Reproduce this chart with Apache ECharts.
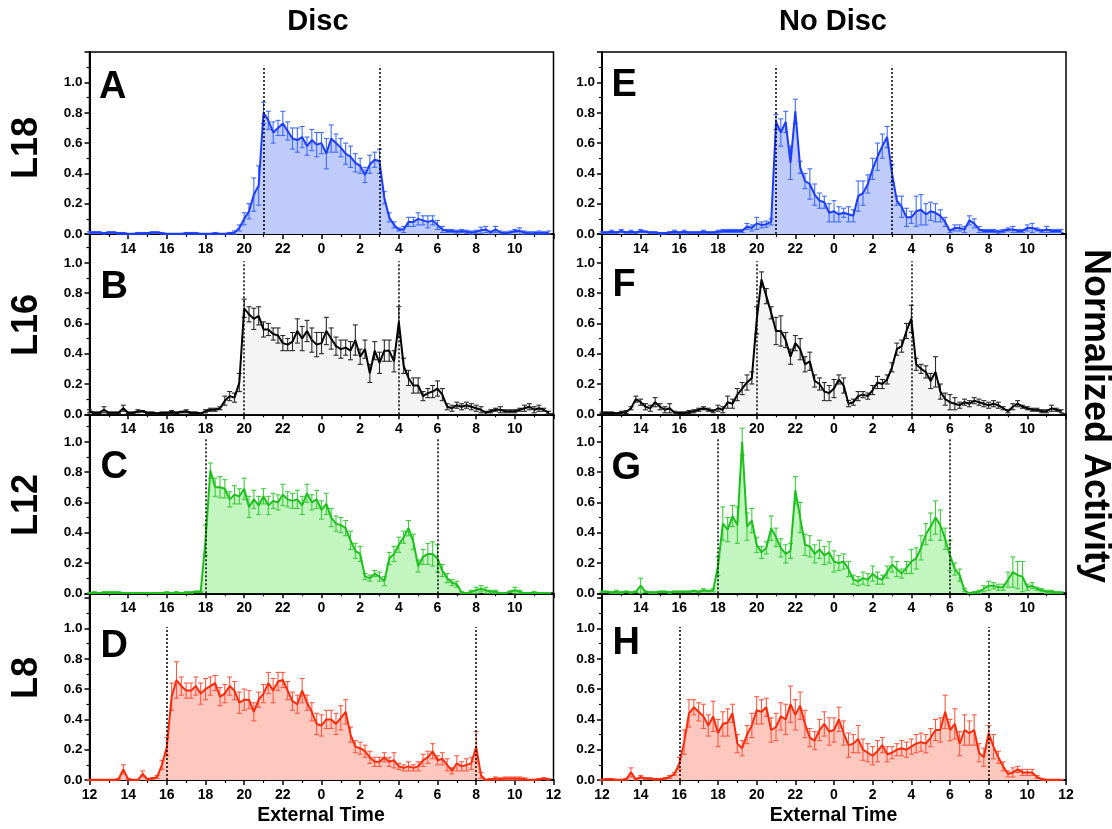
<!DOCTYPE html>
<html>
<head>
<meta charset="utf-8">
<script src="https://cdn.jsdelivr.net/npm/echarts@6/dist/echarts.min.js"></script>
<style>
  html, body { margin: 0; padding: 0; background: #fff; }
  #chart { width: 1112px; height: 829px; }
</style>
</head>
<body>
<div id="chart"></div>
<script>
// 15-min bins starting at 12:00 (x axis = hours since 12:00)
const BIN_HOURS = 0.25;
const CLOCK_LABELS = ['12', '14', '16', '18', '20', '22', '0', '2', '4', '6', '8', '10', '12'];
const ROW_NAMES = ['L18', 'L16', 'L12', 'L8'];
const COLUMN_NAMES = ['Disc', 'No Disc'];
const PANEL_LETTERS = [['A', 'E'], ['B', 'F'], ['C', 'G'], ['D', 'H']];
// lights off / lights on (clock hour) per row
const LIGHTS_OFF = [21, 20, 18, 16];
const LIGHTS_ON = [3, 4, 6, 8];

// ---- Disc ----
const L18_DISC = [0.01,0.01,0.01,0.005,0.01,0.01,0.005,0.005,0,0,0.005,0.005,0.005,0.01,0.01,0.005,0,0,0,0,0.005,0.005,0.005,0,0,0,0.005,0,0,0.005,
  0.01,0.04,0.10,0.15,0.26,0.32,
  0.80,0.75,0.67,0.70,0.73,0.68,0.63,0.62,0.64,0.58,0.62,0.59,
  0.60,0.53,0.63,0.60,0.57,0.53,0.51,0.47,0.45,0.39,0.46,0.49,
  0.48,0.24,0.11,0.06,0.03,0.03,0.08,0.08,0.10,0.09,0.08,0.09,
  0.06,0.03,0.02,0.02,0.015,0.02,0.015,0.01,0.015,0.025,0.03,0.01,
  0.03,0.01,0.005,0.01,0.02,0.02,0.01,0.005,0.005,0.01,0.005,0.01];
const L18_DISC_ERR = [0.005,0.005,0.005,0.005,0.005,0.005,0.005,0.005,0.005,0.005,0.005,0.005,0.005,0.005,0.005,0.005,0.005,0.005,0.005,0.005,0.005,0.005,0.005,0.005,0.005,0.005,0.005,0.005,0.005,0.005,
  0.01,0.02,0.04,0.05,0.11,0.13,
  0.07,0.06,0.07,0.05,0.08,0.06,0.07,0.08,0.07,0.06,0.07,0.08,
  0.07,0.10,0.09,0.06,0.06,0.07,0.07,0.06,0.05,0.05,0.06,0.05,
  0.08,0.04,0.03,0.02,0.01,0.02,0.03,0.03,0.04,0.03,0.04,0.03,
  0.03,0.02,0.01,0.01,0.01,0.01,0.01,0.01,0.01,0.02,0.02,0.01,
  0.02,0.01,0.01,0.01,0.01,0.02,0.01,0.01,0.01,0.01,0.01,0.01];

const L16_DISC = [0.02,0.01,0.01,0.03,0.01,0.01,0.01,0.04,0.01,0.01,0.02,0.02,0.01,0.01,0.005,0.01,0.01,0.015,0.01,0.015,0.02,0.01,0.01,0.005,
  0.02,0.03,0.03,0.04,0.09,0.12,0.11,0.21,
  0.70,0.66,0.63,0.65,0.56,0.56,0.53,0.52,0.47,0.46,0.48,0.55,
  0.50,0.55,0.49,0.46,0.47,0.55,0.50,0.45,0.43,0.44,0.42,0.49,
  0.38,0.43,0.27,0.42,0.34,0.42,0.42,0.35,0.61,0.32,0.24,0.19,
  0.19,0.12,0.14,0.15,0.17,0.13,0.05,0.04,0.06,0.05,0.06,0.05,
  0.04,0.03,0.01,0.02,0.03,0.03,0.02,0.02,0.02,0.03,0.04,0.05,0.03,0.04,0.03,0.01];
const L16_DISC_ERR = [0.01,0.005,0.005,0.02,0.005,0.005,0.005,0.02,0.005,0.005,0.01,0.005,0.005,0.005,0.005,0.005,0.005,0.01,0.005,0.005,0.01,0.005,0.005,0.005,
  0.01,0.01,0.01,0.01,0.03,0.03,0.03,0.06,
  0.06,0.05,0.07,0.06,0.05,0.04,0.04,0.05,0.05,0.04,0.06,0.08,
  0.08,0.07,0.08,0.08,0.07,0.09,0.07,0.06,0.06,0.05,0.06,0.10,
  0.05,0.06,0.06,0.06,0.07,0.07,0.07,0.07,0.10,0.05,0.05,0.05,
  0.05,0.03,0.03,0.04,0.05,0.04,0.02,0.02,0.02,0.02,0.02,0.02,
  0.02,0.02,0.01,0.01,0.01,0.02,0.01,0.01,0.01,0.01,0.02,0.02,0.02,0.02,0.01,0.01];

const L12_DISC = [0,0.005,0,0.005,0.005,0.005,0.005,0,0,0,0,0,0,0,0,0,0.005,0,0.005,0,0.005,0.005,0.01,0.01,
  0.35,0.81,0.70,0.70,0.69,0.62,0.65,0.64,0.69,0.57,0.62,0.58,
  0.64,0.58,0.61,0.60,0.65,0.62,0.61,0.62,0.58,0.66,0.60,0.62,
  0.55,0.59,0.50,0.46,0.45,0.43,0.35,0.28,0.26,0.11,0.10,0.13,
  0.11,0.08,0.23,0.26,0.32,0.37,0.43,0.34,0.18,0.24,0.26,0.26,
  0.23,0.15,0.10,0.07,0.06,0.005,0,0.01,0.02,0.03,0.02,0.01,
  0.01,0,0,0.01,0.02,0.01,0,0,0.005,0,0,0];
const L12_DISC_ERR = [0.005,0.005,0.005,0.005,0.005,0.005,0.005,0.005,0.005,0.005,0.005,0.005,0.005,0.005,0.005,0.005,0.005,0.005,0.005,0.005,0.005,0.005,0.005,0.005,
  0.10,0.05,0.06,0.07,0.06,0.05,0.06,0.05,0.07,0.07,0.06,0.06,
  0.05,0.06,0.05,0.05,0.07,0.05,0.05,0.06,0.06,0.06,0.05,0.06,
  0.06,0.07,0.06,0.05,0.05,0.05,0.06,0.05,0.05,0.02,0.02,0.02,
  0.03,0.03,0.04,0.05,0.05,0.04,0.05,0.05,0.04,0.05,0.07,0.08,
  0.09,0.04,0.03,0.02,0.02,0.005,0.005,0.01,0.02,0.02,0.02,0.01,
  0.01,0.005,0.005,0.005,0.02,0.01,0.005,0.005,0.005,0.005,0.005,0.005];

const L8_DISC = [0,0,0,0,0,0,0.005,0.07,0.005,0,0,0.04,0.005,0.01,0.02,0.10,
  0.22,0.55,0.66,0.62,0.59,0.59,0.62,0.57,0.60,0.62,0.64,0.55,
  0.57,0.62,0.59,0.51,0.53,0.53,0.45,0.53,0.57,0.64,0.59,0.65,
  0.66,0.59,0.52,0.50,0.59,0.51,0.45,0.37,0.36,0.40,0.40,0.37,
  0.41,0.45,0.30,0.22,0.21,0.19,0.15,0.12,0.12,0.15,0.12,0.13,
  0.09,0.08,0.09,0.08,0.09,0.13,0.15,0.19,0.13,0.14,0.10,0.06,
  0.11,0.09,0.10,0.11,0.22,0.03,0,0.005,0.01,0.005,0.01,0.01,
  0.01,0.01,0.005,0,0,0.005,0.01,0.005];
const L8_DISC_ERR = [0.005,0.005,0.005,0.005,0.005,0.005,0.005,0.03,0.005,0.005,0.005,0.02,0.005,0.005,0.01,0.03,
  0.06,0.09,0.12,0.06,0.05,0.05,0.06,0.07,0.07,0.06,0.05,0.06,
  0.06,0.06,0.06,0.07,0.07,0.06,0.06,0.05,0.06,0.07,0.08,0.06,
  0.05,0.06,0.06,0.06,0.08,0.05,0.06,0.07,0.07,0.06,0.06,0.07,
  0.08,0.08,0.05,0.04,0.04,0.04,0.04,0.03,0.03,0.03,0.03,0.05,
  0.02,0.02,0.03,0.02,0.03,0.04,0.04,0.05,0.03,0.04,0.04,0.02,
  0.05,0.03,0.04,0.04,0.10,0.02,0.005,0.005,0.01,0.01,0.01,0.01,
  0.01,0.01,0.01,0.005,0.005,0.005,0.005,0.005];

// ---- No Disc ----
const L18_NODISC = [0.01,0.01,0.015,0.01,0.02,0.01,0.015,0.01,0.02,0.015,0.01,0.01,0.005,0.005,0.01,0.015,0.01,0.015,0.01,0.01,0.01,0.015,0.01,0.01,0.015,0.02,0.02,0.02,
  0.02,0.02,0.05,0.04,0.07,0.06,0.065,0.08,
  0.74,0.67,0.74,0.47,0.81,0.44,0.35,0.33,0.26,0.22,0.21,0.14,
  0.15,0.13,0.14,0.13,0.12,0.25,0.27,0.33,0.43,0.51,0.58,0.64,
  0.40,0.22,0.18,0.11,0.11,0.15,0.16,0.13,0.15,0.14,0.12,0.08,
  0.02,0.04,0.04,0.03,0.09,0.07,0.03,0.02,0.02,0.02,0.015,0.02,
  0.03,0.03,0.02,0.02,0.04,0.04,0.03,0.02,0.03,0.02,0.02,0.02];
const L18_NODISC_ERR = [0.005,0.005,0.01,0.005,0.01,0.005,0.01,0.005,0.01,0.005,0.005,0.005,0.005,0.005,0.005,0.01,0.005,0.01,0.005,0.005,0.005,0.01,0.005,0.005,0.01,0.01,0.01,0.01,
  0.01,0.01,0.02,0.02,0.04,0.02,0.02,0.02,
  0.05,0.09,0.07,0.11,0.08,0.04,0.05,0.10,0.07,0.05,0.04,0.06,
  0.07,0.05,0.03,0.05,0.04,0.10,0.08,0.06,0.07,0.09,0.08,0.07,
  0.06,0.03,0.07,0.06,0.04,0.10,0.10,0.07,0.06,0.06,0.04,0.03,
  0.01,0.02,0.02,0.02,0.03,0.03,0.02,0.01,0.01,0.01,0.01,0.01,
  0.01,0.02,0.01,0.01,0.02,0.03,0.01,0.01,0.02,0.01,0.01,0.01];

const L16_NODISC = [0.01,0.01,0.01,0.005,0.01,0.015,0.04,0.10,0.08,0.05,0.04,0.08,0.05,0.03,0.04,0.01,0.01,0.01,0.015,0.02,0.03,0.04,0.03,0.02,
  0.04,0.03,0.08,0.07,0.13,0.17,0.21,0.24,
  0.62,0.89,0.78,0.67,0.55,0.55,0.49,0.38,0.47,0.43,0.33,0.35,
  0.22,0.20,0.15,0.14,0.17,0.23,0.19,0.07,0.08,0.12,0.13,0.12,
  0.16,0.21,0.20,0.23,0.31,0.43,0.45,0.55,0.63,0.33,0.30,0.28,
  0.22,0.28,0.15,0.10,0.08,0.07,0.06,0.08,0.07,0.09,0.08,0.07,
  0.06,0.07,0.06,0.04,0.02,0.05,0.07,0.05,0.04,0.03,0.03,0.02,0.02,0.04,0.03,0.02];
const L16_NODISC_ERR = [0.005,0.005,0.005,0.005,0.01,0.01,0.01,0.02,0.02,0.02,0.02,0.03,0.02,0.02,0.03,0.01,0.005,0.005,0.01,0.01,0.01,0.01,0.01,0.01,
  0.02,0.02,0.04,0.03,0.04,0.04,0.05,0.04,
  0.09,0.05,0.05,0.04,0.09,0.10,0.05,0.05,0.05,0.07,0.05,0.06,
  0.04,0.04,0.06,0.05,0.06,0.03,0.05,0.02,0.02,0.03,0.02,0.02,
  0.03,0.04,0.03,0.03,0.03,0.04,0.04,0.05,0.09,0.04,0.03,0.04,
  0.05,0.10,0.05,0.04,0.05,0.04,0.02,0.02,0.02,0.02,0.02,0.02,
  0.02,0.02,0.02,0.01,0.01,0.02,0.02,0.01,0.01,0.01,0.01,0.01,0.01,0.02,0.01,0.01];

const L12_NODISC = [0.01,0.01,0.005,0.01,0.005,0.01,0.005,0.01,0.05,0.01,0.005,0.005,0.01,0.01,0.005,0.01,0.01,0.01,0.01,0.015,0.01,0.02,0.015,0.02,
  0.18,0.46,0.42,0.51,0.45,1.00,0.44,0.48,0.32,0.27,0.30,0.43,
  0.37,0.30,0.26,0.28,0.68,0.50,0.32,0.31,0.26,0.29,0.25,0.27,
  0.21,0.20,0.21,0.16,0.09,0.08,0.10,0.09,0.13,0.10,0.09,0.14,
  0.19,0.16,0.13,0.17,0.21,0.23,0.30,0.39,0.44,0.50,0.45,0.36,
  0.25,0.16,0.12,0.02,0,0.005,0.01,0.03,0.05,0.05,0.04,0.04,
  0.09,0.14,0.12,0.11,0.04,0.05,0.03,0.02,0.01,0.01,0.005,0.005];
const L12_NODISC_ERR = [0.005,0.005,0.005,0.01,0.005,0.005,0.005,0.005,0.05,0.005,0.005,0.005,0.005,0.005,0.005,0.005,0.005,0.005,0.005,0.005,0.005,0.01,0.005,0.01,
  0.06,0.11,0.08,0.07,0.12,0.09,0.09,0.08,0.05,0.04,0.04,0.08,
  0.06,0.06,0.06,0.05,0.09,0.10,0.07,0.07,0.06,0.06,0.06,0.07,
  0.07,0.05,0.05,0.05,0.03,0.03,0.04,0.04,0.05,0.04,0.03,0.04,
  0.05,0.05,0.03,0.04,0.08,0.07,0.08,0.07,0.09,0.11,0.10,0.07,
  0.10,0.04,0.04,0.01,0.005,0.005,0.01,0.02,0.03,0.02,0.02,0.02,
  0.05,0.10,0.09,0.10,0.02,0.02,0.01,0.01,0.01,0.01,0.005,0.005];

const L8_NODISC = [0,0.005,0.005,0,0,0.005,0.05,0.005,0.02,0.01,0.01,0.005,0.005,0.01,0.02,0.04,
  0.11,0.25,0.44,0.48,0.45,0.42,0.36,0.42,0.31,0.37,0.38,0.44,
  0.24,0.21,0.30,0.36,0.46,0.45,0.48,0.33,0.35,0.42,0.40,0.50,
  0.43,0.49,0.37,0.28,0.26,0.33,0.37,0.32,0.33,0.40,0.31,0.23,
  0.24,0.27,0.20,0.18,0.16,0.19,0.23,0.17,0.18,0.20,0.21,0.20,
  0.22,0.24,0.25,0.24,0.28,0.33,0.33,0.45,0.33,0.37,0.24,0.33,
  0.31,0.33,0.18,0.15,0.31,0.22,0.15,0.09,0.04,0.05,0.07,0.05,
  0.05,0.05,0.02,0.005,0,0,0,0];
const L8_NODISC_ERR = [0.005,0.005,0.005,0.005,0.005,0.005,0.03,0.005,0.01,0.005,0.005,0.005,0.005,0.005,0.01,0.01,
  0.04,0.08,0.09,0.05,0.06,0.08,0.07,0.10,0.09,0.08,0.09,0.06,
  0.06,0.05,0.06,0.08,0.09,0.08,0.06,0.08,0.09,0.09,0.10,0.12,
  0.10,0.09,0.09,0.06,0.06,0.07,0.08,0.09,0.08,0.08,0.08,0.08,
  0.06,0.09,0.07,0.06,0.06,0.07,0.05,0.05,0.04,0.04,0.05,0.05,
  0.05,0.06,0.06,0.06,0.06,0.07,0.08,0.11,0.07,0.10,0.08,0.10,
  0.08,0.10,0.06,0.06,0.05,0.08,0.04,0.03,0.02,0.03,0.02,0.02,
  0.02,0.02,0.01,0.005,0.005,0.005,0.005,0.005];

// [row][col] -> [values, errors]
const SERIES = [
  [[L18_DISC, L18_DISC_ERR], [L18_NODISC, L18_NODISC_ERR]],
  [[L16_DISC, L16_DISC_ERR], [L16_NODISC, L16_NODISC_ERR]],
  [[L12_DISC, L12_DISC_ERR], [L12_NODISC, L12_NODISC_ERR]],
  [[L8_DISC, L8_DISC_ERR], [L8_NODISC, L8_NODISC_ERR]]
];

// ---- layout & style ----
const FONT = '"Liberation Sans", Arial, Helvetica, sans-serif';
const COL_LEFT = [89.5, 602];
const PLOT_W = 464;
const ROW_TOP = [52, 234, 414.3, 593.3];
const ROW_BOTTOM = [234, 414.3, 593.3, 780];
const Y_UNIT = 151.5; // px per 1.0
const DOTTED_TOP = [1.11, 1.01, 1.02, 1.01];
const ROW_STYLE = [
  { line: '#1e3cff', fill: '#bfcbfa', bar: '#3f6cff' },
  { line: '#000000', fill: '#f4f4f4', bar: '#2a2a2a' },
  { line: '#1ec01e', fill: '#c3f5c0', bar: '#3ccb3c' },
  { line: '#ff2a0a', fill: '#ffc8bf', bar: '#ff5a44' }
];
const LETTER_POS = [[[99, 88], [611.5, 86]], [[100.5, 288], [612.5, 286]], [[100.5, 468], [611.5, 469]], [[100.5, 647], [612.5, 644]]];
const ROW_LABEL_Y = [148, 325, 505, 678];

const toAxisHour = h => (h - 12 + 24) % 24;

function renderErrorBar(params, api) {
  const x = api.value(0);
  const lo = api.coord([x, Math.max(0, api.value(1))]);
  const hi = api.coord([x, api.value(2)]);
  const c = api.visual('color');
  const st = { stroke: c, lineWidth: 1.1 };
  const cap = 2.5;
  return {
    type: 'group',
    children: [
      { type: 'line', shape: { x1: lo[0], y1: lo[1], x2: hi[0], y2: hi[1] }, style: st },
      { type: 'line', shape: { x1: hi[0] - cap, y1: hi[1], x2: hi[0] + cap, y2: hi[1] }, style: st },
      { type: 'line', shape: { x1: lo[0] - cap, y1: lo[1], x2: lo[0] + cap, y2: lo[1] }, style: st }
    ]
  };
}

const grids = [], xAxes = [], yAxes = [], series = [], graphics = [];

for (let r = 0; r < 4; r++) {
  for (let c = 0; c < 2; c++) {
    const idx = grids.length;
    const h = ROW_BOTTOM[r] - ROW_TOP[r];
    const yMax = h / Y_UNIT;
    const isBottom = r === 3;
    grids.push({
      left: COL_LEFT[c], top: ROW_TOP[r], width: PLOT_W, height: h,
      show: true, borderColor: '#000', borderWidth: 1.5, backgroundColor: 'transparent'
    });
    xAxes.push({
      type: 'value', gridIndex: idx, min: 0, max: 24, interval: 2,
      axisLine: { show: true, onZero: false, lineStyle: { color: '#000', width: 2 } },
      axisTick: { show: true, inside: false, length: 5, lineStyle: { color: '#000', width: 1.5 } },
      minorTick: { show: true, splitNumber: 2, length: 3, lineStyle: { color: '#000', width: 1.2 } },
      splitLine: { show: false },
      axisLabel: {
        color: '#000', fontWeight: 'bold', fontSize: 14, fontFamily: FONT, margin: 8,
        formatter: v => {
          if (!isBottom && (v <= 0 || v >= 24)) return '';
          return CLOCK_LABELS[Math.round(v / 2)] || '';
        }
      }
    });
    yAxes.push({
      type: 'value', gridIndex: idx, min: 0, max: yMax, interval: 0.2,
      axisLine: { show: true, lineStyle: { color: '#000', width: 2 } },
      axisTick: { show: true, inside: false, length: 5, lineStyle: { color: '#000', width: 1.5 } },
      minorTick: { show: true, splitNumber: 2, length: 3, lineStyle: { color: '#000', width: 1.2 } },
      splitLine: { show: false },
      axisLabel: {
        color: '#000', fontWeight: 'bold', fontSize: 13.5, fontFamily: FONT, margin: 7,
        formatter: v => (v > 1.001 ? '' : v.toFixed(1))
      }
    });

    const [vals, errs] = SERIES[r][c];
    const pts = vals.map((v, i) => [i * BIN_HOURS, v]);
    const bars = vals.map((v, i) => [i * BIN_HOURS, v - errs[i], v + errs[i]]);
    const sty = ROW_STYLE[r];
    const off = toAxisHour(LIGHTS_OFF[r]);
    const on = toAxisHour(LIGHTS_ON[r]);
    const top = DOTTED_TOP[r];

    series.push({
      type: 'line', xAxisIndex: idx, yAxisIndex: idx, data: pts,
      symbol: 'none', silent: true, z: 1,
      lineStyle: { width: 0 },
      areaStyle: { color: sty.fill, opacity: 1 }
    });
    series.push({
      type: 'custom', xAxisIndex: idx, yAxisIndex: idx, data: bars,
      renderItem: renderErrorBar, silent: true, z: 3,
      itemStyle: { color: sty.bar },
      encode: { x: 0, y: [1, 2] }
    });
    series.push({
      type: 'line', xAxisIndex: idx, yAxisIndex: idx, data: pts,
      symbol: 'none', silent: true, z: 4,
      lineStyle: { color: sty.line, width: 2 },
      markLine: {
        symbol: 'none', silent: true, label: { show: false },
        lineStyle: { color: '#000', type: [2, 2], width: 1.5 },
        data: [
          [{ coord: [off, 0] }, { coord: [off, top] }],
          [{ coord: [on, 0] }, { coord: [on, top] }]
        ]
      }
    });

    const [lx, ly] = LETTER_POS[r][c];
    graphics.push({
      type: 'text', x: lx, y: ly, z: 10,
      style: { text: PANEL_LETTERS[r][c], font: 'bold 38px ' + FONT, fill: '#000', align: 'left', verticalAlign: 'middle' }
    });
  }
  graphics.push({
    type: 'text', x: 27, y: ROW_LABEL_Y[r], rotation: Math.PI / 2,
    style: { text: ROW_NAMES[r], font: 'bold 36px ' + FONT, fill: '#000', align: 'center', verticalAlign: 'middle' }
  });
}

graphics.push(
  { type: 'text', x: 318, y: 22, style: { text: COLUMN_NAMES[0], font: 'bold 29px ' + FONT, fill: '#000', align: 'center', verticalAlign: 'middle' } },
  { type: 'text', x: 833, y: 22, style: { text: COLUMN_NAMES[1], font: 'bold 29px ' + FONT, fill: '#000', align: 'center', verticalAlign: 'middle' } },
  { type: 'text', x: 321, y: 816, style: { text: 'External Time', font: 'bold 19.5px ' + FONT, fill: '#000', align: 'center', verticalAlign: 'middle' } },
  { type: 'text', x: 833.5, y: 816, style: { text: 'External Time', font: 'bold 19.5px ' + FONT, fill: '#000', align: 'center', verticalAlign: 'middle' } },
  { type: 'text', x: 1095, y: 416, rotation: -Math.PI / 2, style: { text: 'Normalized Activity', font: 'bold 36px ' + FONT, fill: '#000', align: 'center', verticalAlign: 'middle' } }
);

const chart = echarts.init(document.getElementById('chart'));
chart.setOption({
  animation: false,
  backgroundColor: '#fff',
  grid: grids,
  xAxis: xAxes,
  yAxis: yAxes,
  series: series,
  graphic: graphics
});
</script>
</body>
</html>
